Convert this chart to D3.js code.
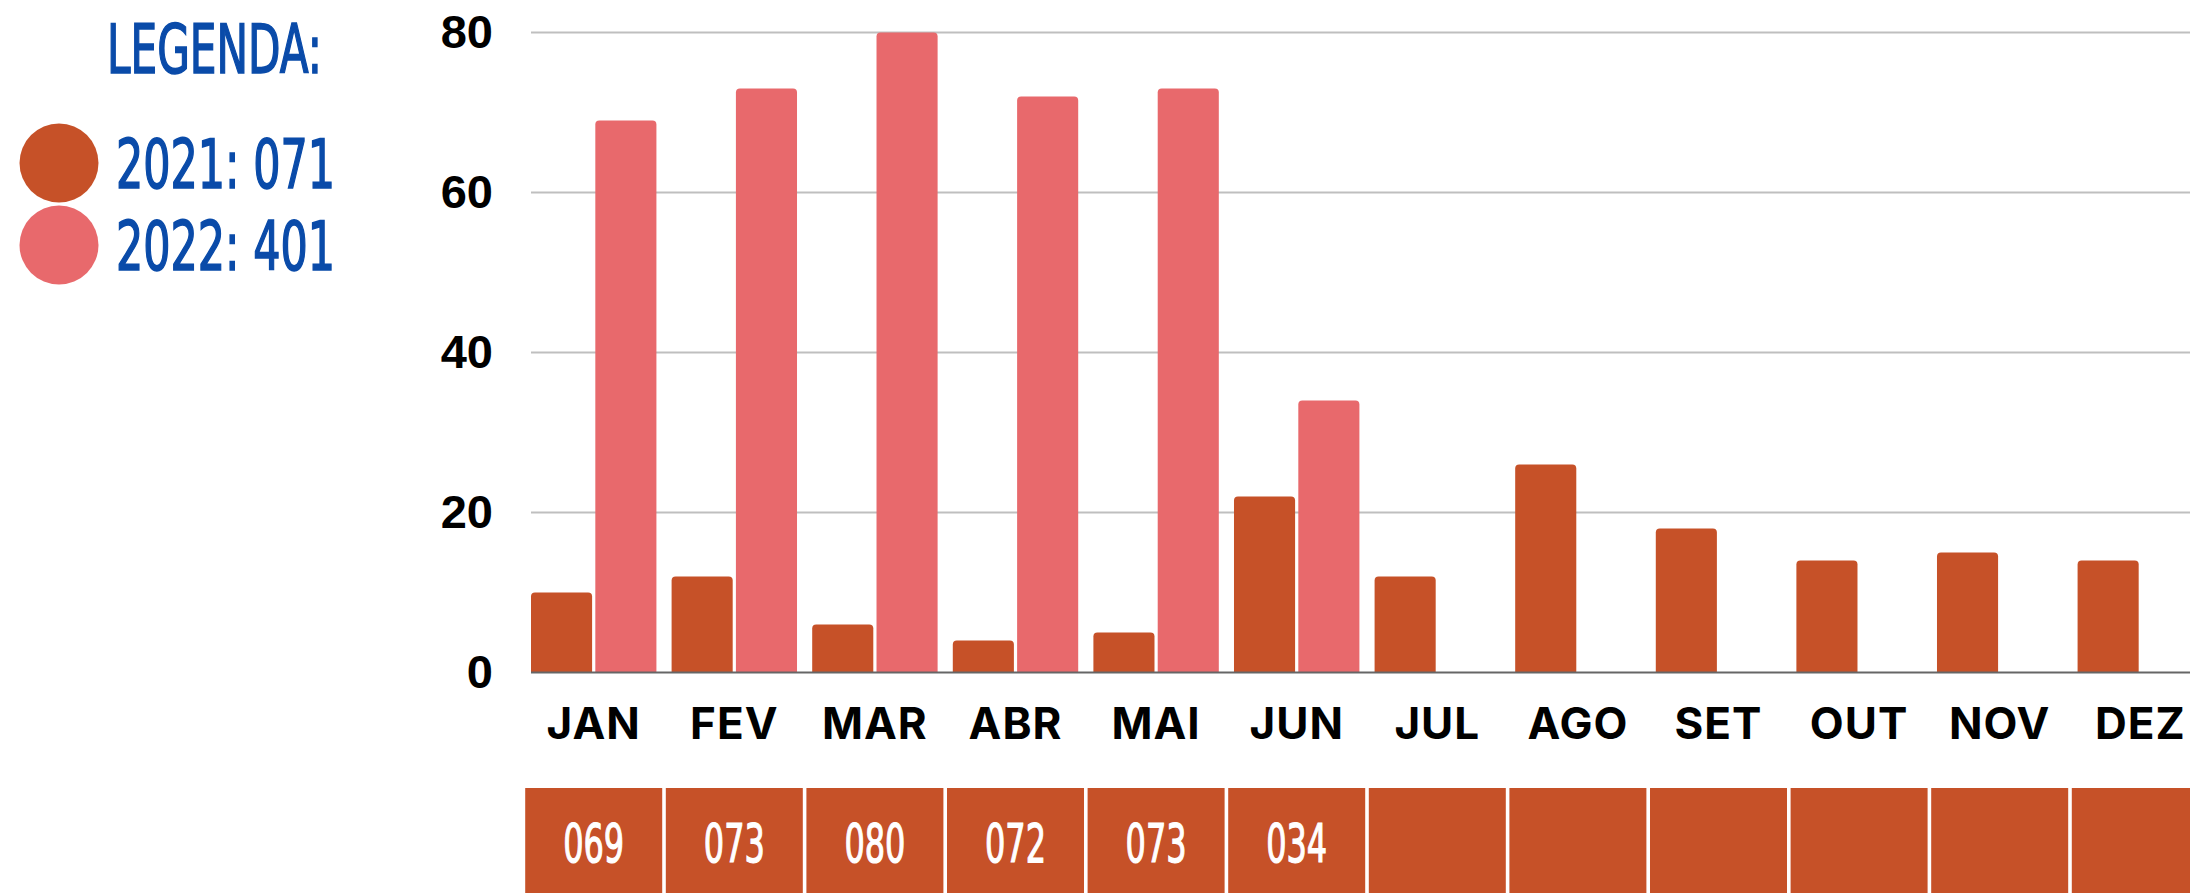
<!DOCTYPE html>
<html lang="en">
<head>
	<meta charset="utf-8">
	<title>Casos por mês</title>
	<script src="https://d3js.org/d3.v7.min.js" charset="utf-8"></script>
	<style>
	body { margin: 0; background: #fff; }
	svg { display: block; }
	</style>
</head>
<body>
	<script>
	// Data
	var months = ["JAN", "FEV", "MAR", "ABR", "MAI", "JUN", "JUL", "AGO", "SET", "OUT", "NOV", "DEZ"];
	var years = ["2021", "2022"];
	var values2021 = [10, 12, 6, 4, 5, 22, 12, 26, 18, 14, 15, 14];
	var values2022 = [69, 73, 80, 72, 73, 34, null, null, null, null, null, null];
	var yTicks = [0, 20, 40, 60, 80];
	var cellLabels = ["069", "073", "080", "072", "073", "034", "", "", "", "", "", ""];
	var legendLabels = ["2021: 071", "2022: 401"];
	var legendTitle = "LEGENDA:";

	var w = 2190;
	var h = 893;
	var colors = { "2021": "#c65128", "2022": "#e8696c" };
	var blue = "#0a4ba9";
	var condensed = "'Liberation Sans Narrow', 'DejaVu Sans Condensed', sans-serif";

	var svg = d3.select("body")
		.append("svg")
		.attr("width", w)
		.attr("height", h);

	// scales
	var x0 = d3.scaleBand()
		.domain(months)
		.range([531, 2203])
		.paddingInner(0.108)
		.paddingOuter(0);

	var x1 = d3.scaleBand()
		.domain(years)
		.range([0, x0.bandwidth()])
		.paddingInner(0.05);

	var y = d3.scaleLinear()
		.domain([0, 80])
		.range([672.5, 32.5]);

	// grid lines
	svg.append("g")
		.selectAll("line")
		.data(yTicks.filter(function(t) { return t > 0; }))
		.enter()
		.append("line")
		.attr("x1", 531)
		.attr("x2", w)
		.attr("y1", function(d) { return y(d); })
		.attr("y2", function(d) { return y(d); })
		.attr("stroke", "#bfbfbf")
		.attr("stroke-width", 2);

	// bars, top corners slightly rounded
	function barPath(x, yTop, bw, yBase) {
		var r = Math.min(4, (yBase - yTop) / 2);
		return "M" + x + "," + yBase +
			"V" + (yTop + r) +
			"Q" + x + "," + yTop + " " + (x + r) + "," + yTop +
			"H" + (x + bw - r) +
			"Q" + (x + bw) + "," + yTop + " " + (x + bw) + "," + (yTop + r) +
			"V" + yBase + "Z";
	}

	var rows = months.map(function(m, i) {
		return { month: m, values: [
			{ year: "2021", v: values2021[i] },
			{ year: "2022", v: values2022[i] }
		] };
	});

	svg.append("g")
		.selectAll("g")
		.data(rows)
		.enter()
		.append("g")
		.attr("transform", function(d) { return "translate(" + x0(d.month) + ",0)"; })
		.selectAll("path")
		.data(function(d) { return d.values.filter(function(e) { return e.v != null; }); })
		.enter()
		.append("path")
		.attr("d", function(d) { return barPath(x1(d.year), y(d.v), x1.bandwidth(), y(0)); })
		.attr("fill", function(d) { return colors[d.year]; });

	// base line
	svg.append("line")
		.attr("x1", 531)
		.attr("x2", w)
		.attr("y1", y(0))
		.attr("y2", y(0))
		.attr("stroke", "#666")
		.attr("stroke-width", 2);

	// y axis labels
	var yAxis = svg.append("g")
		.attr("transform", "translate(493,0)")
		.call(d3.axisLeft(y).tickValues(yTicks).tickSize(0).tickPadding(0));
	yAxis.select(".domain").remove();
	yAxis.selectAll("text")
		.attr("font-family", "'Liberation Sans', Arial, sans-serif")
		.attr("font-weight", "bold")
		.attr("font-size", 47)
		.attr("fill", "#000");

	// x axis labels
	var xAxis = svg.append("g")
		.attr("transform", "translate(0," + y(0) + ")")
		.call(d3.axisBottom(x0).tickSize(0));
	xAxis.select(".domain").remove();
	xAxis.selectAll("text")
		.attr("y", 66)
		.attr("dy", "0")
		.attr("font-family", "Inter, 'Open Sans', sans-serif")
		.attr("font-weight", "bold")
		.attr("font-size", 44)
		.attr("letter-spacing", 1)
		.attr("fill", "#000");

	// table of monthly totals below the chart
	var cellW = x0.step() - 3.6;
	var cells = svg.append("g")
		.selectAll("g")
		.data(months)
		.enter()
		.append("g")
		.attr("transform", function(d) { return "translate(" + (x0(d) + x0.bandwidth() / 2) + ",0)"; });

	cells.append("rect")
		.attr("x", -cellW / 2)
		.attr("y", 788)
		.attr("width", cellW)
		.attr("height", 120)
		.attr("fill", colors["2021"]);

	cells.append("text")
		.attr("text-anchor", "middle")
		.attr("y", 862)
		.attr("font-family", condensed)
		.attr("font-size", 54)
		.attr("fill", "#fff")
		.attr("stroke", "#fff")
		.attr("stroke-width", 1.2)
		.attr("textLength", function(d, i) { return cellLabels[i] ? 61 : null; })
		.attr("lengthAdjust", "spacingAndGlyphs")
		.text(function(d, i) { return cellLabels[i]; });

	// legend
	svg.append("text")
		.attr("x", 107)
		.attr("y", 73)
		.attr("font-family", condensed)
		.attr("font-size", 68)
		.attr("fill", blue)
		.attr("stroke", blue)
		.attr("stroke-width", 1.6)
		.attr("textLength", 215)
		.attr("lengthAdjust", "spacingAndGlyphs")
		.text(legendTitle);

	var legend = svg.append("g")
		.selectAll("g")
		.data(years)
		.enter()
		.append("g")
		.attr("transform", function(d, i) { return "translate(0," + (163 + i * 82) + ")"; });

	legend.append("circle")
		.attr("cx", 59)
		.attr("cy", 0)
		.attr("r", 39.5)
		.attr("fill", function(d) { return colors[d]; });

	legend.append("text")
		.attr("x", 116)
		.attr("y", 25)
		.attr("font-family", condensed)
		.attr("font-size", 67)
		.attr("fill", blue)
		.attr("stroke", blue)
		.attr("stroke-width", 1.6)
		.attr("textLength", 219)
		.attr("lengthAdjust", "spacingAndGlyphs")
		.text(function(d, i) { return legendLabels[i]; });
	</script>
</body>
</html>
